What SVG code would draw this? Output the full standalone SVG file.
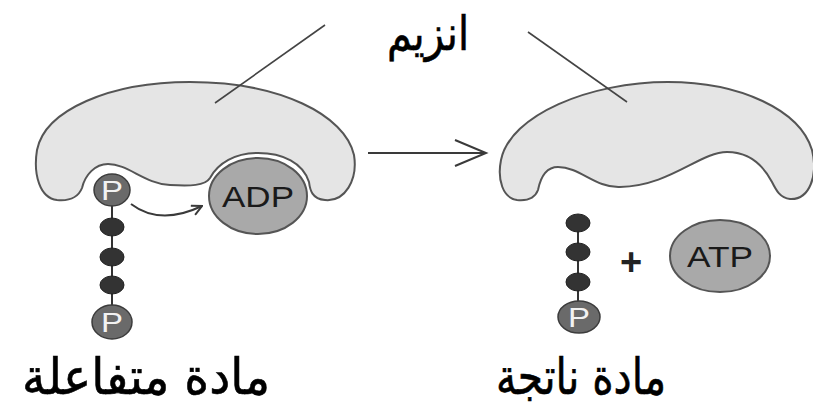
<svg xmlns="http://www.w3.org/2000/svg" width="813" height="409" viewBox="0 0 813 409">
  <style>
    .enzyme { fill: #e5e5e5; stroke: #555; stroke-width: 2; }
    .mol { fill: #a9a9a9; stroke: #555; stroke-width: 2; }
    .pho { fill: #6a6a6a; stroke: #3c3c3c; stroke-width: 1.5; }
    .bead { fill: #333; stroke: #222; stroke-width: 1; }
    .bond { stroke: #333; stroke-width: 2; }
    .wire { fill: none; stroke: #3a3a3a; stroke-width: 2; }
    .ptr { fill: none; stroke: #444; stroke-width: 1.6; }
    .ptxt { font-family: "Liberation Sans", Arial, sans-serif; font-size: 27px; fill: #f2f2f2; text-anchor: middle; }
    .mtxt { font-family: "Liberation Sans", Arial, sans-serif; font-size: 29px; fill: #1a1a1a; text-anchor: middle; }
    .ar { font-family: "DejaVu Sans", "Noto Sans", sans-serif; fill: #000; text-anchor: middle; stroke: #000; stroke-width: 0.6; }
  </style>
  <defs>
    <marker id="open" viewBox="0 0 12 12" refX="11" refY="6" markerWidth="12" markerHeight="12" markerUnits="userSpaceOnUse" orient="auto">
      <path d="M1 1 L11 6 L1 11" fill="none" stroke="#3a3a3a" stroke-width="2"/>
    </marker>
  </defs>
  <rect width="813" height="409" fill="#fff"/>

  <!-- enzyme label -->
  <g id="label-enzyme">
    <text class="ar" x="428" y="50" font-size="48" textLength="82" lengthAdjust="spacingAndGlyphs">انزيم</text>
  </g>

  <!-- left: enzyme with bound substrate -->
  <g id="enzyme-left">
    <path class="enzyme" d="M57 200 C40 198 33 175 37 150 C45 110 110 82 190 82 C280 82 345 115 354 155 C358 180 345 202 325 200 C312 199 310 190 309 182 C303 163 283 153 258 153 C235 153 218 163 210 178 C205 186 190 186 170 185 C145 184 128 164 108 164 C95 164 85 175 82 188 C78 198 68 201 57 200 Z"/>
  </g>
  <g id="adp">
    <ellipse class="mol" cx="258" cy="196" rx="49" ry="38"/>
    <text class="mtxt" x="258" y="207" textLength="72" lengthAdjust="spacingAndGlyphs">ADP</text>
  </g>
  <g id="substrate">
    <line class="bond" x1="112" y1="190" x2="112" y2="322"/>
    <ellipse class="bead" cx="112" cy="227" rx="12" ry="9"/>
    <ellipse class="bead" cx="112" cy="257" rx="12" ry="9"/>
    <ellipse class="bead" cx="112" cy="285" rx="12" ry="9"/>
    <ellipse class="pho" cx="112" cy="190" rx="18" ry="16"/>
    <text class="ptxt" x="112" y="200" textLength="22" lengthAdjust="spacingAndGlyphs">P</text>
    <ellipse class="pho" cx="112" cy="322" rx="20" ry="17"/>
    <text class="ptxt" x="112" y="332" textLength="22" lengthAdjust="spacingAndGlyphs">P</text>
  </g>

  <!-- right: enzyme released, product and ATP -->
  <g id="enzyme-right">
    <path class="enzyme" d="M517 200 C503 198 497 180 501 160 C510 115 590 82 668 82 C740 82 800 110 812 150 C818 175 810 200 790 199 C780 198 776 190 772 182 C762 163 748 152 727 152 C700 152 670 186 620 187 C595 188 580 167 558 167 C545 167 540 180 538 190 C535 198 527 201 517 200 Z"/>
  </g>
  <g id="product">
    <line class="bond" x1="578" y1="223" x2="578" y2="316"/>
    <ellipse class="bead" cx="578" cy="223" rx="12" ry="9"/>
    <ellipse class="bead" cx="578" cy="252" rx="12" ry="9"/>
    <ellipse class="bead" cx="578" cy="282" rx="12" ry="9"/>
    <ellipse class="pho" cx="579" cy="317" rx="21" ry="16"/>
    <text class="ptxt" x="579" y="327" textLength="22" lengthAdjust="spacingAndGlyphs">P</text>
  </g>
  <g id="plus">
    <text x="631" y="275" font-family="Liberation Sans, Arial, sans-serif" font-size="38" font-weight="bold" fill="#222" text-anchor="middle">+</text>
  </g>
  <g id="atp">
    <ellipse class="mol" cx="720" cy="256" rx="50" ry="36"/>
    <text class="mtxt" x="720" y="267" textLength="66" lengthAdjust="spacingAndGlyphs">ATP</text>
  </g>

  <!-- captions -->
  <g id="caption-left">
    <text class="ar" x="146" y="394" font-size="50" textLength="248" lengthAdjust="spacingAndGlyphs">مادة متفاعلة</text>
  </g>
  <g id="caption-right">
    <text class="ar" x="581" y="394" font-size="50" textLength="170" lengthAdjust="spacingAndGlyphs">مادة ناتجة</text>
  </g>

  <!-- connectors -->
  <g id="connectors">
    <line class="ptr" x1="325" y1="25" x2="215" y2="103"/>
    <line class="ptr" x1="528" y1="32" x2="627" y2="102"/>
    <path class="wire" d="M131 204 Q160 226 202 206" marker-end="url(#open)"/>
    <line class="wire" x1="368" y1="153" x2="485" y2="153"/>
    <polyline class="wire" points="455,140 486,153 455,166" stroke-width="2.4"/>
  </g>
</svg>
